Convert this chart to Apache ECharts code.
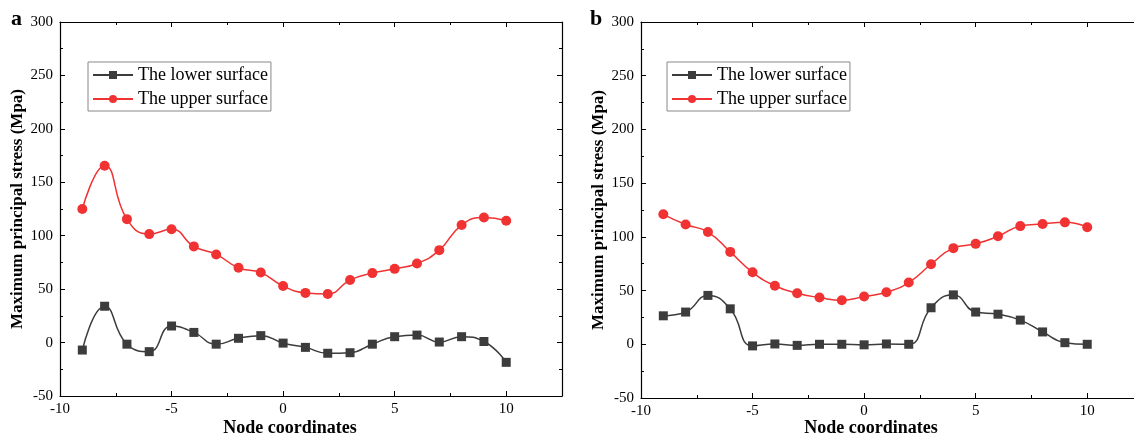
<!DOCTYPE html>
<html>
<head>
<meta charset="utf-8">
<script src="https://cdn.jsdelivr.net/npm/echarts@6/dist/echarts.min.js"></script>
<style>
  html, body { margin: 0; padding: 0; background: #fff; }
  #chart { width: 1134px; height: 436px; }
</style>
</head>
<body>
<div id="chart"></div>
<script>
const nodes = [-9, -8, -7, -6, -5, -4, -3, -2, -1, 0, 1, 2, 3, 4, 5, 6, 7, 8, 9, 10];

// panel a
const lowerA = [-7, 34, -1.5, -8.5, 15.5, 9.5, -1.5, 4, 6.5, -0.5, -4.5, -10, -9.5, -1.5, 5.5, 7, 0.5, 5.5, 1, -18.5];
const upperA = [125, 165.5, 115.5, 101.5, 106, 90, 82.5, 70, 65.5, 53, 46.5, 45.5, 58.5, 65, 69, 74, 86.5, 110, 117, 114];

// panel b
const lowerB = [26.5, 30, 45.5, 33, -1.5, 0.3, -1, 0, 0, -0.5, 0.3, 0, 34, 46, 30, 28, 22.5, 11.5, 1.5, 0];
const upperB = [121, 111.5, 104.5, 86, 67, 54.5, 47.5, 43.5, 41, 44.5, 48.5, 57.5, 74.5, 89.5, 93.5, 100.5, 110, 112, 113.5, 109];

const LOWER = 'The lower surface';
const UPPER = 'The upper surface';
const FONT = 'Liberation Serif';

const chart = echarts.init(document.getElementById('chart'));

function pairs(vals) {
    return nodes.map((x, i) => [x, vals[i]]);
}

let grids = [
    {left: 60, right: 572, top: 22, bottom: 40, outerBoundsMode: 'none'},
    {left: 641, right: -9, top: 22, bottom: 38, outerBoundsMode: 'none'}
];

let axisLineStyle = {onZero: false, lineStyle: {color: '#000', width: 1.2}};
let tickStyle = {show: true, inside: true, length: 5, lineStyle: {color: '#000'}};
let minorStyle = {show: true, splitNumber: 2, length: 3, lineStyle: {color: '#000'}};

let xAxes = [];
let yAxes = [];
[0, 1].forEach(function (g) {
    // bottom axis with labels
    xAxes.push({
        type: 'value', gridIndex: g, min: -10, max: 12.5, interval: 5,
        name: 'Node coordinates', nameLocation: 'middle', nameGap: g === 0 ? 23 : 21,
        nameMoveOverlap: false,
        nameTextStyle: {fontFamily: FONT, fontWeight: 'bold', fontSize: 18, color: '#000', padding: [0, 42, 0, 0]},
        axisLine: axisLineStyle,
        axisTick: tickStyle,
        minorTick: minorStyle,
        axisLabel: {fontFamily: FONT, fontSize: 15, color: '#000', margin: 6,
            formatter: v => (v > 10 ? '' : v)},
        splitLine: {show: false}
    });
    // top mirror axis
    xAxes.push({
        type: 'value', gridIndex: g, position: 'top', min: -10, max: 12.5, interval: 5,
        axisLine: axisLineStyle,
        axisTick: tickStyle,
        minorTick: minorStyle,
        axisLabel: {show: false},
        splitLine: {show: false}
    });
    yAxes.push({
        type: 'value', gridIndex: g, min: -50, max: 300, interval: 50,
        name: 'Maximum principal stress (Mpa)', nameLocation: 'middle', nameGap: 34,
        nameMoveOverlap: false,
        nameTextStyle: {fontFamily: FONT, fontWeight: 'bold', fontSize: 17, color: '#000'},
        axisLine: Object.assign({show: true}, axisLineStyle),
        axisTick: tickStyle,
        minorTick: minorStyle,
        axisLabel: {fontFamily: FONT, fontSize: 15, color: '#000', margin: 7},
        splitLine: {show: false}
    });
    yAxes.push({
        type: 'value', gridIndex: g, position: 'right', min: -50, max: 300, interval: 50,
        axisLine: Object.assign({show: true}, axisLineStyle),
        axisTick: tickStyle,
        minorTick: minorStyle,
        axisLabel: {show: false},
        splitLine: {show: false}
    });
});

function makeSeries(name, vals, g, color, symbol, size) {
    return {
        name: name, type: 'line', xAxisIndex: g * 2, yAxisIndex: g * 2,
        data: pairs(vals), smooth: 0.5,
        symbol: symbol, symbolSize: size,
        itemStyle: {color: color},
        lineStyle: {color: color, width: 1.5},
        z: symbol === 'circle' ? 3 : 2
    };
}

let legendBase = {
    orient: 'vertical',
    data: [LOWER, UPPER],
    itemWidth: 40, itemHeight: 10, itemGap: 6,
    padding: [4, 3, 3, 4],
    borderColor: '#888', borderWidth: 1,
    textStyle: {fontFamily: FONT, fontSize: 18, color: '#000'},
    selectedMode: false
};

chart.setOption({
    animation: false,
    backgroundColor: '#fff',
    grid: grids,
    xAxis: xAxes,
    yAxis: yAxes,
    legend: [
        Object.assign({}, legendBase, {left: 88, top: 62}),
        Object.assign({}, legendBase, {left: 667, top: 62})
    ],
    graphic: [
        {type: 'text', left: 11, top: 8, style: {text: 'a', fontFamily: FONT, fontWeight: 'bold', fontSize: 22, fill: '#000'}},
        {type: 'text', left: 590, top: 8, style: {text: 'b', fontFamily: FONT, fontWeight: 'bold', fontSize: 22, fill: '#000'}}
    ],
    series: [
        makeSeries(LOWER, lowerA, 0, '#3c3c3c', 'rect', 9),
        makeSeries(UPPER, upperA, 0, '#f03232', 'circle', 10),
        makeSeries(LOWER, lowerB, 1, '#3c3c3c', 'rect', 9),
        makeSeries(UPPER, upperB, 1, '#f03232', 'circle', 10)
    ]
});

window.addEventListener('resize', function () {
    chart.resize();
});
</script>
</body>
</html>
